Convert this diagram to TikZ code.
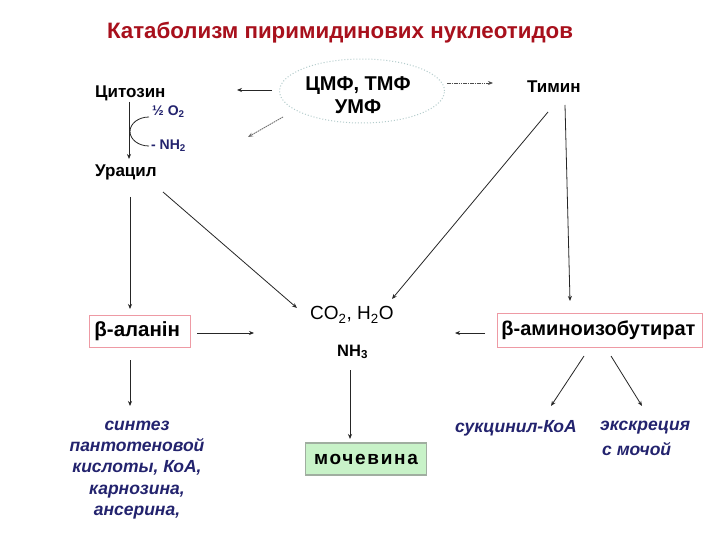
\documentclass[tikz,border=0pt]{standalone}
\usepackage{fontspec}
\setmainfont{Liberation Sans}
\usetikzlibrary{arrows.meta,shapes.geometric}
\definecolor{titlered}{HTML}{A8101C}
\definecolor{navy}{HTML}{23236E}
\definecolor{pinkline}{HTML}{EE9AA4}
\definecolor{ureagreen}{HTML}{C8F2C8}
\definecolor{ureaedge}{HTML}{A0AEA0}
\definecolor{ellgray}{HTML}{B4CCCC}
\newcommand{\sbs}[1]{\textsubscript{#1}}
\tikzset{
  arr/.style={draw=black!85, line width=0.8pt, -{Stealth[length=5pt,width=4pt]}},
  dotarr/.style={draw=black!70, line width=0.9pt, dash pattern=on 1.6pt off 0.7pt, -{Stealth[length=5pt,width=4pt]}},
  lbl/.style={font=\bfseries\fontsize{17}{20}\selectfont, inner sep=0pt},
  blu/.style={font=\bfseries\fontsize{14}{15}\selectfont, text=navy, inner sep=0pt},
  ital/.style={font=\bfseries\itshape\fontsize{17.5}{21.3}\selectfont, text=navy, align=center, inner sep=0pt},
  boxed/.style={draw=pinkline, line width=0.9pt, inner sep=4pt, anchor=west}
}
\begin{document}
\begin{tikzpicture}[x=1pt,y=-1pt]
\useasboundingbox (0,0) rectangle (720,540);
\fill[white] (0,0) rectangle (720,540);

\node[font=\bfseries\fontsize{22.3}{26}\selectfont, text=titlered, inner sep=0pt] (title) at (340,33) {Катаболизм пиримидинових нуклеотидов};

\node[ellipse, draw=ellgray, dotted, line width=1pt, minimum width=165pt, minimum height=64pt, inner sep=0pt] (ell) at (362,91) {};
\node[align=center, inner sep=0pt, font=\bfseries\fontsize{20}{22.5}\selectfont] (elltxt) at (358,95) {ЦМФ, ТМФ\\УМФ};

\node[lbl, anchor=west] (cyt) at (95,93) {Цитозин};
\node[lbl, anchor=west] (ura) at (95,172) {Урацил};
\node[lbl, anchor=west] (thy) at (527,87) {Тимин};
\node[blu, anchor=west] (o2) at (152,112) {½ O\sbs{2}};
\node[blu, anchor=west] (nh2) at (151,146) {- NH\sbs{2}};

\node[font=\fontsize{19}{22}\selectfont, inner sep=0pt, anchor=west] (co2) at (310,315) {CO\sbs{2}, H\sbs{2}O};
\node[font=\bfseries\fontsize{16.5}{18}\selectfont, inner sep=0pt, anchor=west] (nh3) at (337,352) {NH\sbs{3}};

\node[boxed, minimum height=32pt, inner sep=5pt, anchor=west, text width=91pt, font=\bfseries\fontsize{20.5}{22}\selectfont] (bala) at (89,331) {β-аланін};
\node[boxed, minimum height=34pt, inner sep=4pt, anchor=west, text width=197pt, font=\bfseries\fontsize{20}{22}\selectfont] (bam) at (497,330) {β-аминоизобутират};

\node[ital] (syn) at (137,470) {синтез\\пантотеновой\\кислоты, КоА,\\карнозина,\\ансерина,};

\node[draw=ureaedge, line width=1.2pt, fill=ureagreen, minimum width=121pt, minimum height=32pt, inner sep=0pt, font=\bfseries\fontsize{19}{20}\selectfont\addfontfeature{LetterSpace=9}] (urea) at (366,459) {мочевина};

\node[ital, anchor=west] (succ) at (455,428) {сукцинил-КоА};
\node[ital, anchor=west] (exc) at (600,428) {экскреция};
\node[ital, anchor=west] (exc2) at (602,449) {с мочой};

% connectors
\coordinate (a1) at (272,90); \coordinate (a2) at (237,90);
\draw[arr] (a1) -- (a2);
\coordinate (d1) at (283,117); \coordinate (d2) at (248,137);
\draw[dotarr, draw=black!55] (d1) -- (d2);
\coordinate (t1) at (447,83); \coordinate (t2) at (493,83);
\draw[dotarr] (t1) -- (t2);

\coordinate (c1) at (129,102); \coordinate (c2) at (129,159);
\draw[arr] (c1) -- (c2);
\draw[black!85, line width=0.8pt] (149,117) arc[start angle=270, end angle=90, x radius=19, y radius=14.5];

\coordinate (u1) at (130,197); \coordinate (u2) at (130,309);
\draw[arr] (u1) -- (u2);
\coordinate (u3) at (163,192); \coordinate (u4) at (297,308);
\draw[arr] (u3) -- (u4);
\coordinate (th1) at (548,112); \coordinate (th2) at (392,299);
\draw[arr] (th1) -- (th2);
\coordinate (th3) at (565,105); \coordinate (th4) at (570,301);
\draw[arr] (th3) -- (th4);

\coordinate (b0) at (197,333); \coordinate (b1) at (254,333);
\draw[arr] (b0) -- (b1);
\coordinate (b5) at (485,333); \coordinate (b2) at (455,333);
\draw[arr] (b5) -- (b2);
\coordinate (b4) at (130,360); \coordinate (b3) at (130,406);
\draw[arr] (b4) -- (b3);
\coordinate (n1) at (350,370); \coordinate (n2) at (350,439);
\draw[arr] (n1) -- (n2);
\coordinate (m1) at (584,356); \coordinate (m2) at (551,406);
\draw[arr] (m1) -- (m2);
\coordinate (m3) at (611,356); \coordinate (m4) at (642,406);
\draw[arr] (m3) -- (m4);
\end{tikzpicture}
\end{document}
